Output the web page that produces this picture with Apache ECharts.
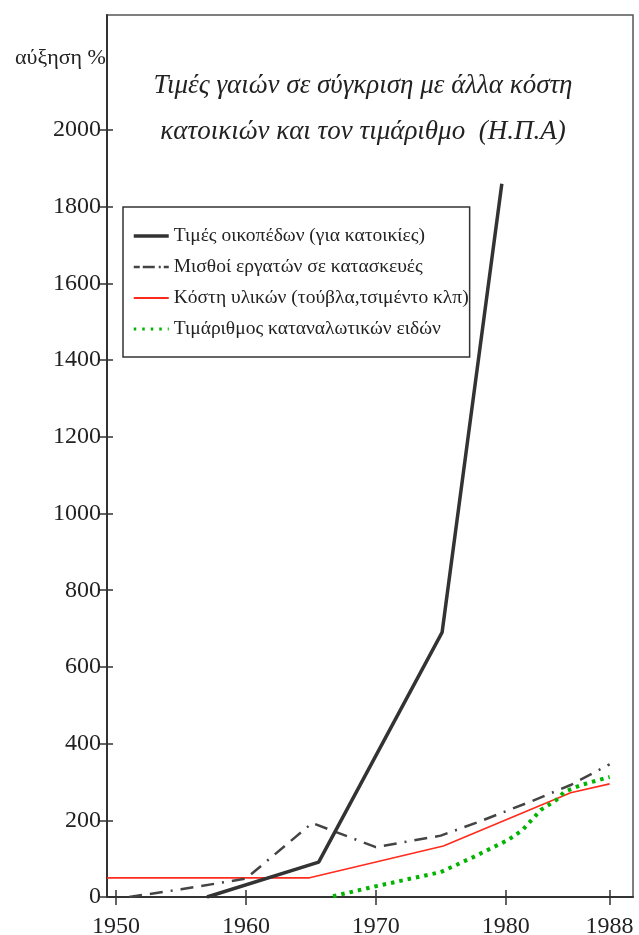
<!DOCTYPE html>
<html>
<head>
<meta charset="utf-8">
<script src="https://cdn.jsdelivr.net/npm/echarts@6/dist/echarts.min.js"></script>
<style>html,body{margin:0;padding:0;background:#fff}#c{width:639px;height:935px}</style>
</head>
<body>
<div id="c"></div>
<script>
// ---- data ----
const seriesNames = [
  'Τιμές οικοπέδων (για κατοικίες)',
  'Μισθοί εργατών σε κατασκευές',
  'Κόστη υλικών (τούβλα,τσιμέντο κλπ)',
  'Τιμάριθμος καταναλωτικών ειδών'
];
const landYears   = [1957, 1965.6, 1975.1, 1979.7];
const landValues  = [0, 91, 690, 1860];
const wageYears   = [1951, 1955, 1960, 1965.1, 1970, 1975, 1978, 1982, 1985, 1988];
const wageValues  = [0, 20, 48, 193, 130, 160, 197, 250, 292, 346];
const matYears    = [1949.3, 1964.9, 1975.2, 1985, 1988];
const matValues   = [50, 50, 133, 272, 295];
const cpiYears    = [1966.7, 1970, 1975, 1977.5, 1980.2, 1981.3, 1982.7, 1983.9, 1984.5, 1985.8, 1988];
const cpiValues   = [2, 28, 65, 104, 149, 175, 227, 253, 274, 292, 313];
const xTickLabels = [1950, 1960, 1970, 1980, 1988];
const yTickLabels = [0, 200, 400, 600, 800, 1000, 1200, 1400, 1600, 1800, 2000];
const yAxisTitle  = 'αύξηση %';
const chartTitle  = 'Τιμές γαιών σε σύγκριση με άλλα κόστη\nκατοικιών και τον τιμάριθμο  (Η.Π.Α)';

const zip = (xs, ys) => xs.map((x, i) => [x, ys[i]]);
const FONT = 'Liberation Serif';
const plain = v => String(v);

const styles = [
  {color: '#333', width: 3.5, type: 'solid'},
  {color: '#444', width: 2.5, type: [13, 8, 13, 8, 2, 8]},
  {color: '#ff2b1c', width: 1.6, type: 'solid'},
  {color: '#00b400', width: 4, type: [3.5, 5]}
];
const legendTypes = ['solid', [6, 3, 12, 4, 2, 3], 'solid', [2.5, 6]];
const legendWidths = [3.5, 2.5, 2, 3];

const chart = echarts.init(document.getElementById('c'), null, {renderer: 'canvas'});
const xBase = {type: 'value', min: 1949.3, max: 1989.8, splitLine: {show: false}};
const yBase = {type: 'value', min: 0, max: 2300, interval: 200, splitLine: {show: false}};
chart.setOption({
  animation: false,
  backgroundColor: '#fff',
  title: [
    {text: yAxisTitle, left: 10, top: 42, textStyle: {fontFamily: FONT, fontSize: 22, fontWeight: 'normal', color: '#222'}},
    {text: chartTitle, left: 358, top: 58, textAlign: 'center',
     textStyle: {fontFamily: FONT, fontSize: 27, fontStyle: 'italic', fontWeight: 'normal', color: '#222', lineHeight: 46}}
  ],
  grid: {left: 107, right: 6, top: 15, bottom: 38, show: true, borderColor: '#555', borderWidth: 1.5,
         containLabel: false, outerBoundsMode: 'none'},
  legend: {
    orient: 'vertical', left: 123, top: 207,
    borderColor: '#333', borderWidth: 1.5, borderRadius: 0,
    padding: [19, 1, 18, 9], itemGap: 11, itemWidth: 35, itemHeight: 20,
    itemStyle: {opacity: 0},
    textStyle: {fontFamily: FONT, fontSize: 19.5, color: '#222'},
    data: seriesNames.map((n, i) => ({name: n,
      lineStyle: {color: styles[i].color, width: legendWidths[i], type: legendTypes[i]}}))
  },
  xAxis: [
    Object.assign({}, xBase, {
      axisLine: {lineStyle: {color: '#333', width: 2}},
      axisTick: {customValues: xTickLabels, length: 8, lineStyle: {color: '#333', width: 1.5}},
      axisLabel: {customValues: xTickLabels, formatter: plain, fontFamily: FONT, fontSize: 24, color: '#222', margin: 18}
    }),
    Object.assign({}, xBase, {
      position: 'bottom',
      axisLine: {show: false},
      axisTick: {customValues: xTickLabels, inside: true, length: 7, lineStyle: {color: '#333', width: 1.5}},
      axisLabel: {show: false}
    })
  ],
  yAxis: [
    Object.assign({}, yBase, {
      axisLine: {show: true, lineStyle: {color: '#333', width: 2}},
      axisTick: {show: true, customValues: yTickLabels, length: 7, lineStyle: {color: '#333', width: 1.5}},
      axisLabel: {customValues: yTickLabels, formatter: plain, fontFamily: FONT, fontSize: 24, color: '#222', margin: 6}
    }),
    Object.assign({}, yBase, {
      position: 'left',
      axisLine: {show: false},
      axisTick: {show: true, customValues: yTickLabels, inside: true, length: 6, lineStyle: {color: '#333', width: 1.5}},
      axisLabel: {show: false}
    })
  ],
  series: [
    {name: seriesNames[0], type: 'line', data: zip(landYears, landValues), symbol: 'none',
     lineStyle: styles[0], itemStyle: {color: styles[0].color}, z: 5},
    {name: seriesNames[1], type: 'line', data: zip(wageYears, wageValues), symbol: 'none',
     lineStyle: styles[1], itemStyle: {color: styles[1].color}, z: 4},
    {name: seriesNames[2], type: 'line', data: zip(matYears, matValues), symbol: 'none',
     lineStyle: styles[2], itemStyle: {color: styles[2].color}, z: 3},
    {name: seriesNames[3], type: 'line', data: zip(cpiYears, cpiValues), symbol: 'none',
     lineStyle: styles[3], itemStyle: {color: styles[3].color}, z: 3}
  ]
});
</script>
</body>
</html>
